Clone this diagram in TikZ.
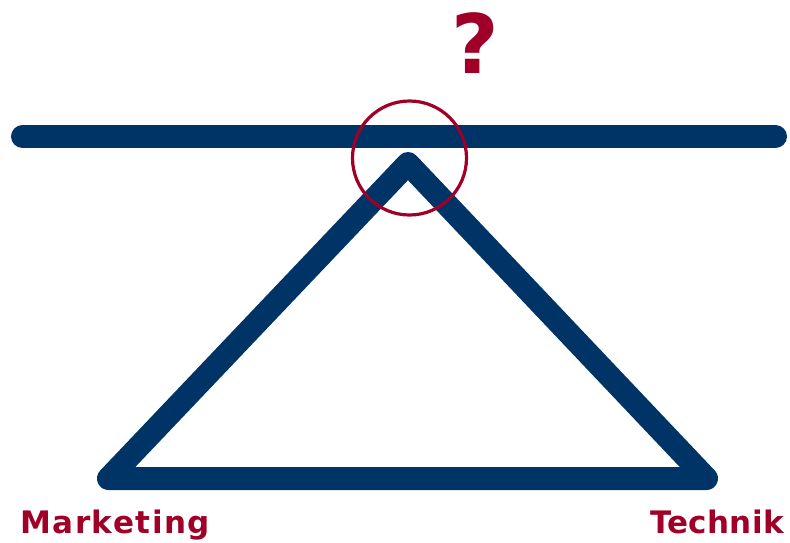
\documentclass[tikz,border=0pt]{standalone}
\usepackage{fontspec}
\setmainfont{DejaVu Sans}
\definecolor{navy}{RGB}{0,51,102}
\definecolor{wine}{RGB}{160,0,40}
\begin{document}
\begin{tikzpicture}[x=1pt,y=1pt,
  beam/.style={draw=navy,line width=23pt,line cap=round,line join=round},
  ring/.style={draw=wine,line width=3.2pt},
  lbl/.style={text=wine,font=\bfseries\fontsize{31}{31}\selectfont,inner sep=0pt}]
\useasboundingbox (0,0) rectangle (790,-542);
\coordinate (bl) at (22.5,-136.5);
\coordinate (br) at (775.5,-136.5);
\coordinate (apex) at (408,-163.5);
\coordinate (left) at (108.5,-478.5);
\coordinate (right) at (706.5,-478.5);
\draw[beam] (bl) -- (br);
\draw[beam] (apex) -- (right) -- (left) -- cycle;
\node[ring,circle,minimum size=114pt,inner sep=0pt] (ring) at (409.5,-158) {};
\node[text=wine,font=\bfseries\fontsize{82}{82}\selectfont,inner sep=0pt,anchor=base] (q) at (475,-73) {?};
\node[lbl,font=\bfseries\fontsize{31}{31}\selectfont\addfontfeature{LetterSpace=5},anchor=base west] (mk) at (20,-533) {Marketing};
\node[lbl,font=\bfseries\fontsize{31}{31}\selectfont\addfontfeature{LetterSpace=1},anchor=base east] (tk) at (784,-533) {Technik};
\end{tikzpicture}
\end{document}
